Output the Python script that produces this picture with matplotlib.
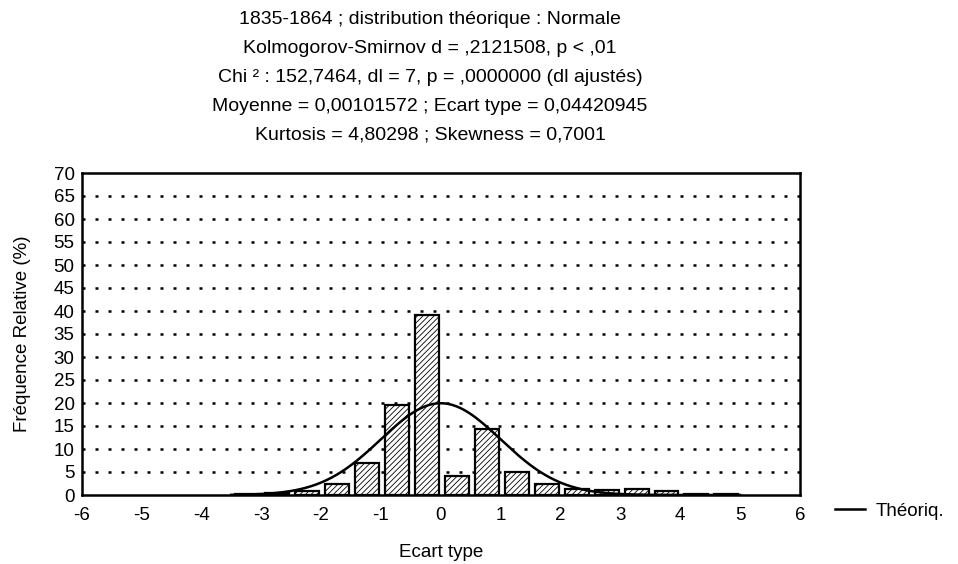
import matplotlib
matplotlib.use('Agg')
import matplotlib.pyplot as plt
from matplotlib.lines import Line2D
import numpy as np

plt.rcParams['font.family'] = ['Liberation Sans', 'DejaVu Sans']
plt.rcParams['axes.unicode_minus'] = False
plt.rcParams['hatch.linewidth'] = 0.6
plt.rcParams['hatch.color'] = '#333333'

# histogramme : centres des classes (en écarts types) et fréquences relatives (%)
centres = [-3.23, -2.73, -2.23, -1.73, -1.23, -0.73, -0.23, 0.27, 0.77,
           1.27, 1.77, 2.27, 2.77, 3.27, 3.77, 4.27, 4.77]
freq = [0.3, 0.5, 0.8, 2.4, 6.9, 19.6, 39.1, 4.2, 14.3,
        4.9, 2.3, 1.3, 1.1, 1.3, 0.8, 0.2, 0.2]
largeur_classe = 0.5

# loi normale théorique
moy_th = 0.0
ec_th = 1.0

titre = ["1835-1864 ; distribution théorique : Normale",
         "Kolmogorov-Smirnov d = ,2121508, p < ,01",
         "Chi ² : 152,7464, dl = 7, p = ,0000000 (dl ajustés)",
         "Moyenne = 0,00101572 ; Ecart type = 0,04420945",
         "Kurtosis = 4,80298 ; Skewness = 0,7001"]

fig = plt.figure(figsize=(9.58, 5.64), dpi=100)
ax = fig.add_axes([81.5 / 958, 1 - 495 / 564, (800 - 81.5) / 958, (495 - 173) / 564])

ax.bar(centres, freq, width=0.4, color='white', edgecolor='black',
       linewidth=1.6, hatch='//////', zorder=2)

xs = np.linspace(-3.5, 5.0, 400)
ys = 100 * largeur_classe * np.exp(-0.5 * ((xs - moy_th) / ec_th) ** 2) / (ec_th * np.sqrt(2 * np.pi))
ax.plot(xs, ys, color='black', linewidth=1.8, zorder=3)

ax.set_xlim(-6, 6)
ax.set_ylim(0, 70)
ax.set_xticks(range(-6, 7))
ax.set_yticks(range(0, 71, 5))
ax.tick_params(length=0, labelsize=13.5)
ax.tick_params(axis='x', pad=9)
ax.tick_params(axis='y', pad=5)
for s in ax.spines.values():
    s.set_linewidth(1.8)
for v in range(5, 70, 5):
    ax.axhline(v, color='black', linestyle=(0, (1.2, 4)), linewidth=1.8, zorder=1)

ax.set_xlabel('Ecart type', fontsize=13.5, labelpad=14)
ax.set_ylabel('Fréquence Relative (%)', fontsize=13.5, labelpad=16)

for i, ligne in enumerate(titre):
    fig.text(430 / 958, 1 - (20 + 28.8 * i) / 564, ligne, ha='center', va='center', fontsize=14)

leg = ax.legend([Line2D([], [], color='black', linewidth=1.8)], ['Théoriq.'],
                loc='center left', bbox_to_anchor=(1.025, -0.05), frameon=False,
                fontsize=13.5, handlelength=1.6, handletextpad=0.6)

fig.savefig('out.png', dpi=100)
